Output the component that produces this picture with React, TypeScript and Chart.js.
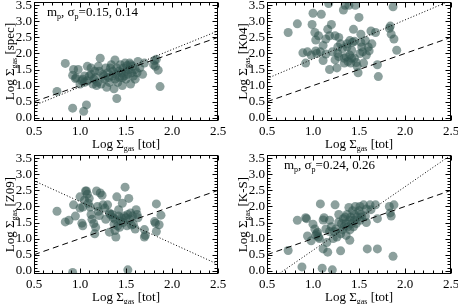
import React, { useEffect, useRef } from "react";
import { Chart, registerables } from "chart.js";
Chart.register(...registerables);

// ---------- data ----------
const xTickValues = [0.5, 1.0, 1.5, 2.0, 2.5];
const yTickValues = [0.0, 0.5, 1.0, 1.5, 2.0, 2.5, 3.0, 3.5];
const X_RANGE = [0.5, 2.5];
const Y_RANGE = [-0.1, 3.6];

const oneToOneLine = [[0.5, 0.5], [2.5, 2.5]];

const specX = [0.75,0.84,0.92,0.93,0.95,0.92,0.96,0.98,1.00,1.02,1.04,1.07,1.03,1.05,1.08,1.10,1.08,1.12,1.12,1.14,1.16,1.17,1.18,1.19,1.20,1.21,1.22,1.23,1.25,1.27,1.28,1.29,1.30,1.31,1.32,1.33,1.34,1.35,1.36,1.37,1.38,1.38,1.39,1.40,1.40,1.41,1.42,1.43,1.44,1.45,1.46,1.47,1.48,1.49,1.50,1.50,1.51,1.52,1.53,1.54,1.55,1.56,1.57,1.58,1.60,1.62,1.63,1.65,1.68,1.70,1.80,1.81,1.82,1.83,1.85,1.87,1.26,1.15,1.46,1.55,1.05,1.60];
const specY = [0.82,1.69,1.32,1.50,1.22,0.30,1.25,1.50,1.05,1.15,0.20,0.40,1.20,1.30,1.15,1.30,1.60,1.55,1.35,1.05,1.45,1.25,1.00,1.10,1.60,1.45,1.85,1.05,1.35,1.20,1.55,0.95,1.40,1.25,1.10,1.55,1.65,1.30,1.45,0.90,1.80,1.20,1.35,1.55,0.60,1.10,1.45,1.25,1.65,1.40,1.00,1.55,1.30,1.70,1.45,1.20,1.62,1.35,1.50,1.70,1.05,1.40,1.60,1.30,1.50,1.40,1.75,1.55,1.35,1.70,1.65,1.78,1.60,1.82,1.48,0.97,1.30,1.20,1.25,1.65,1.10,1.20];
const specFit = [[0.5, 0.38], [2.5, 2.7]];

const k04X = [0.73,0.83,0.89,0.92,0.94,0.98,0.99,1.00,1.02,1.03,1.03,1.04,1.06,1.08,1.09,1.11,1.11,1.14,1.14,1.16,1.17,1.18,1.18,1.20,1.21,1.24,1.24,1.26,1.27,1.27,1.28,1.28,1.30,1.32,1.33,1.34,1.34,1.35,1.36,1.37,1.37,1.38,1.39,1.40,1.40,1.41,1.42,1.42,1.43,1.44,1.45,1.45,1.46,1.47,1.48,1.49,1.50,1.51,1.52,1.52,1.53,1.54,1.55,1.57,1.58,1.60,1.61,1.63,1.64,1.70,1.71,1.68,1.84,1.85,1.87,1.88,1.91,1.83];
const k04Y = [2.65,2.92,2.02,1.70,2.05,1.95,2.90,3.25,2.65,2.42,2.08,2.00,2.55,2.05,3.22,1.78,2.25,2.45,1.98,2.75,3.55,1.50,2.55,2.90,2.05,2.55,1.80,1.55,2.20,2.00,2.50,1.90,2.30,2.15,3.35,1.70,1.85,3.50,1.90,2.30,2.20,1.75,3.50,1.95,2.40,1.70,1.85,2.10,2.35,2.75,1.85,2.38,3.50,1.72,1.60,1.40,3.12,2.00,2.35,2.60,2.20,2.05,1.70,2.40,1.95,2.20,2.08,2.70,2.30,1.65,1.28,2.65,2.85,2.60,3.45,2.45,2.10,2.78];
const k04Fit = [[0.5, 1.22], [2.5, 3.65]];

const z09X = [0.75,0.84,0.88,0.93,0.95,0.92,1.00,1.00,1.02,1.03,1.03,1.05,1.06,1.07,1.08,1.09,1.10,1.11,1.12,1.13,1.15,1.16,1.17,1.18,1.19,1.20,1.21,1.22,1.24,1.25,1.27,1.28,1.30,1.32,1.32,1.33,1.35,1.36,1.37,1.38,1.38,1.39,1.40,1.41,1.42,1.42,1.43,1.44,1.45,1.46,1.47,1.48,1.49,1.50,1.51,1.52,1.52,1.53,1.54,1.55,1.57,1.58,1.60,1.61,1.62,1.63,1.70,1.70,1.71,1.81,1.82,1.83,1.83,1.86,1.88,1.56];
const z09Y = [1.85,1.52,1.57,2.05,1.70,-0.05,2.30,1.95,1.48,1.40,1.98,2.20,2.48,2.48,2.38,2.10,2.25,1.98,1.75,1.60,1.47,1.15,1.35,2.48,2.00,1.85,1.72,2.42,2.35,2.05,1.95,1.60,2.05,1.80,1.20,1.75,1.75,1.65,1.45,1.25,1.60,1.05,2.30,1.40,1.70,1.90,1.35,1.55,1.65,2.10,1.50,1.70,2.60,1.65,1.40,1.75,0.03,2.25,1.60,1.80,1.70,1.45,1.30,1.90,1.75,1.65,1.28,1.05,1.10,1.53,1.48,2.08,1.22,1.43,1.73,1.42];
const z09Fit = [[0.5, 2.8], [2.5, 0.2]];

const ksX = [0.73,0.83,0.88,0.92,0.93,0.94,0.98,1.00,1.02,1.03,1.04,1.05,1.06,1.07,1.08,1.10,1.11,1.11,1.12,1.14,1.15,1.16,1.18,1.18,1.20,1.21,1.22,1.23,1.24,1.25,1.26,1.28,1.28,1.30,1.30,1.31,1.32,1.33,1.34,1.35,1.36,1.36,1.37,1.38,1.39,1.40,1.40,1.41,1.42,1.43,1.44,1.45,1.45,1.46,1.47,1.48,1.50,1.51,1.51,1.52,1.53,1.55,1.57,1.58,1.58,1.62,1.63,1.59,1.70,1.70,1.68,1.83,1.84,1.85,1.88,1.87,1.40];
const ksY = [0.63,1.57,0.12,1.65,1.62,1.08,0.93,1.45,1.30,1.10,1.15,1.20,1.05,1.00,2.08,0.08,1.58,0.68,1.65,1.30,0.88,0.58,1.57,1.22,1.37,0.03,1.00,1.22,2.05,1.30,1.05,1.52,1.75,0.62,1.15,1.47,1.27,1.62,1.37,1.67,1.10,1.47,1.75,1.37,1.97,1.57,1.27,1.67,1.47,1.87,1.37,1.57,1.75,2.00,1.47,1.67,1.87,1.57,2.00,1.75,1.67,2.05,1.70,1.50,1.92,2.05,1.90,0.68,1.62,0.68,2.05,2.00,1.80,1.70,2.05,0.45,0.95];
const ksFit = [[0.5, -0.35], [2.5, 3.6]];

const xLabel = "[tot]";
const yLabels = ["[spec]", "[K04]", "[Z09]", "[K-S]"];
const notes = ["0.15, 0.14", null, null, "0.24, 0.26"];

// ---------- style ----------
const FONT = "'Liberation Serif', 'DejaVu Serif', serif";
const POINT_COLOR = "rgba(50,86,80,0.56)";
const PAD_T = 14;
const PAD_R = 16;
const X_AXIS_H = 40;

type Part = { t: string; sub?: boolean };

function drawParts(ctx: CanvasRenderingContext2D, parts: Part[], x: number, y: number, size: number, center: boolean) {
  const subSize = Math.round(size * 0.62);
  const widths: number[] = [];
  for (const p of parts) {
    ctx.font = `${p.sub ? subSize : size}px ${FONT}`;
    widths.push(ctx.measureText(p.t).width);
  }
  let total = 0;
  for (const w of widths) total += w;
  let cx = center ? x - total / 2 : x;
  ctx.textAlign = "left";
  ctx.textBaseline = "alphabetic";
  for (let i = 0; i < parts.length; i++) {
    const p = parts[i];
    ctx.font = `${p.sub ? subSize : size}px ${FONT}`;
    ctx.fillText(p.t, cx, p.sub ? y + 3 : y);
    cx += widths[i];
  }
}

type PanelProps = {
  xs: number[];
  ys: number[];
  fit: number[][];
  yLabel: string;
  note: string | null;
  left: number;
  areaLeft: number;
  areaRight: number;
  areaTop: number;
  areaBottom: number;
  noteDx: number;
};

function Panel(p: PanelProps) {
  const ref = useRef<HTMLCanvasElement | null>(null);
  const cw = p.areaRight + PAD_R;
  const ch = PAD_T + (p.areaBottom - p.areaTop) + X_AXIS_H;
  useEffect(() => {
    if (!ref.current) return;
    const toPts = (arr: number[][]) => arr.map(([x, y]) => ({ x, y }));
    const n = Math.min(p.xs.length, p.ys.length);
    const points: { x: number; y: number }[] = [];
    for (let i = 0; i < n; i++) points.push({ x: p.xs[i], y: p.ys[i] });
    const tickFont = { family: FONT, size: 13 };
    const decor = {
      id: "decor",
      afterDraw(chart: any) {
        const ctx: CanvasRenderingContext2D = chart.ctx;
        const a = chart.chartArea;
        const sx = chart.scales.x;
        const sy = chart.scales.y;
        ctx.save();
        ctx.setLineDash([]);
        ctx.strokeStyle = "#000";
        ctx.lineWidth = 1;
        const L = Math.round(a.left) + 0.5;
        const R = Math.round(a.right) - 0.5;
        const T = Math.round(a.top) + 0.5;
        const B = Math.round(a.bottom) - 0.5;
        ctx.strokeRect(L, T, R - L, B - T);
        ctx.beginPath();
        for (let k = 5; k <= 25; k++) {
          const px = Math.round(sx.getPixelForValue(k / 10)) + 0.5;
          const len = k % 5 === 0 ? 5 : 3;
          ctx.moveTo(px, B);
          ctx.lineTo(px, B - len);
          ctx.moveTo(px, T);
          ctx.lineTo(px, T + len);
        }
        for (let k = 0; k <= 35; k++) {
          const py = Math.round(sy.getPixelForValue(k / 10)) + 0.5;
          const len = k % 5 === 0 ? 5 : 3;
          ctx.moveTo(L, py);
          ctx.lineTo(L + len, py);
          ctx.moveTo(R, py);
          ctx.lineTo(R - len, py);
        }
        ctx.stroke();
        ctx.fillStyle = "#000";
        drawParts(ctx, [{ t: "Log Σ" }, { t: "gas", sub: true }, { t: " " + xLabel }], (a.left + a.right) / 2, a.bottom + 27, 13, true);
        ctx.save();
        ctx.translate(a.left - 20, (a.top + a.bottom) / 2);
        ctx.rotate(-Math.PI / 2);
        drawParts(ctx, [{ t: "Log Σ" }, { t: "gas", sub: true }, { t: " " + p.yLabel }], 0, 0, 13, true);
        ctx.restore();
        if (p.note) {
          drawParts(ctx, [{ t: "m" }, { t: "p", sub: true }, { t: ", σ" }, { t: "p", sub: true }, { t: "=" + p.note }], a.left + p.noteDx, a.top + 14, 13, false);
        }
        ctx.restore();
      },
    };
    const chart = new Chart(ref.current, {
      type: "scatter",
      data: {
        datasets: [
          { type: "line", data: toPts(oneToOneLine), borderColor: "#000", borderWidth: 1, borderDash: [6, 4], pointRadius: 0, fill: false, order: 0 } as any,
          { type: "line", data: toPts(p.fit), borderColor: "#000", borderWidth: 1, borderDash: [1, 2], pointRadius: 0, fill: false, order: 0 } as any,
          { data: points, backgroundColor: POINT_COLOR, borderWidth: 0, pointRadius: 4.5, order: 1 } as any,
        ],
      },
      options: {
        animation: false,
        responsive: false,
        devicePixelRatio: 1,
        layout: { padding: { left: 0, right: PAD_R, top: PAD_T, bottom: 0 } },
        plugins: { legend: { display: false }, tooltip: { enabled: false } },
        scales: {
          x: {
            type: "linear",
            min: X_RANGE[0],
            max: X_RANGE[1],
            grid: { display: false, drawTicks: false },
            border: { display: false },
            ticks: { font: tickFont, color: "#000", padding: 3, maxRotation: 0, autoSkip: false, callback: (v: any) => Number(v).toFixed(1) },
            afterBuildTicks: (s: any) => { s.ticks = xTickValues.map((v) => ({ value: v })); },
            afterFit: (s: any) => { s.height = X_AXIS_H; s.paddingLeft = 0; s.paddingRight = 0; },
          },
          y: {
            type: "linear",
            min: Y_RANGE[0],
            max: Y_RANGE[1],
            grid: { display: false, drawTicks: false },
            border: { display: false },
            ticks: { font: tickFont, color: "#000", padding: 2, autoSkip: false, callback: (v: any) => Number(v).toFixed(1) },
            afterBuildTicks: (s: any) => { s.ticks = yTickValues.map((v) => ({ value: v })); },
            afterFit: (s: any) => { s.width = p.areaLeft; s.paddingTop = 0; s.paddingBottom = 0; },
          },
        },
      } as any,
      plugins: [decor],
    });
    return () => chart.destroy();
  }, []);
  return (
    <canvas
      ref={ref}
      width={cw}
      height={ch}
      style={{ position: "absolute", left: p.left, top: p.areaTop - PAD_T, width: cw, height: ch, display: "block" }}
    />
  );
}

export default function App() {
  return (
    <div style={{ position: "fixed", left: 0, top: 0, width: 458, height: 304, background: "#fff", overflow: "hidden" }}>
      <Panel xs={specX} ys={specY} fit={specFit} yLabel={yLabels[0]} note={notes[0]} left={0} areaLeft={34} areaRight={218} areaTop={2} areaBottom={121} noteDx={13} />
      <Panel xs={k04X} ys={k04Y} fit={k04Fit} yLabel={yLabels[1]} note={notes[1]} left={229} areaLeft={38} areaRight={222} areaTop={2} areaBottom={121} noteDx={17} />
      <Panel xs={z09X} ys={z09Y} fit={z09Fit} yLabel={yLabels[2]} note={notes[2]} left={0} areaLeft={34} areaRight={218} areaTop={155} areaBottom={274} noteDx={13} />
      <Panel xs={ksX} ys={ksY} fit={ksFit} yLabel={yLabels[3]} note={notes[3]} left={229} areaLeft={38} areaRight={222} areaTop={155} areaBottom={274} noteDx={17} />
    </div>
  );
}
